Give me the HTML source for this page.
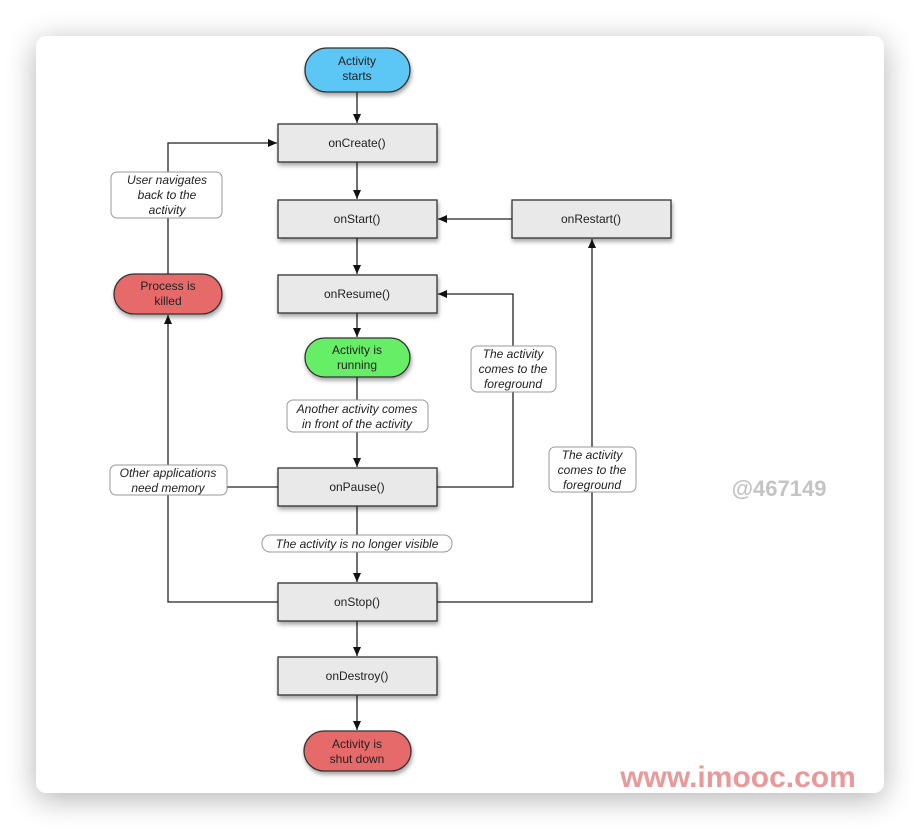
<!DOCTYPE html>
<html><head><meta charset="utf-8"><style>
html,body{margin:0;padding:0;background:#fff;}
body{width:920px;height:830px;position:relative;overflow:hidden;font-family:"Liberation Sans",sans-serif;}
.card{position:absolute;left:36px;top:36px;width:848px;height:757px;background:#fff;border-radius:10px;box-shadow:0 6px 30px rgba(0,0,0,0.3);}
svg{position:absolute;left:0;top:0;}
</style></head><body>
<div class="card"></div>
<svg width="920" height="830" viewBox="0 0 920 830" xmlns="http://www.w3.org/2000/svg" font-family="Liberation Sans, sans-serif">
<defs>
<marker id="a" markerWidth="10" markerHeight="10" refX="9" refY="5" orient="auto" markerUnits="userSpaceOnUse"><path d="M0,1 L9,5 L0,9 z" fill="#111"/></marker>
<filter id="s" x="-20%" y="-20%" width="140%" height="160%"><feDropShadow dx="1" dy="3" stdDeviation="2" flood-color="#000" flood-opacity="0.35"/></filter>
</defs>
<g stroke="#222" stroke-width="1.3" fill="none">
<line x1="357" y1="92" x2="357" y2="123" marker-end="url(#a)"/>
<line x1="357" y1="162" x2="357" y2="199" marker-end="url(#a)"/>
<line x1="357" y1="238" x2="357" y2="274" marker-end="url(#a)"/>
<line x1="357" y1="313" x2="357" y2="337" marker-end="url(#a)"/>
<line x1="357" y1="377" x2="357" y2="467" marker-end="url(#a)"/>
<line x1="357" y1="506" x2="357" y2="582" marker-end="url(#a)"/>
<line x1="357" y1="621" x2="357" y2="656" marker-end="url(#a)"/>
<line x1="357" y1="695" x2="357" y2="730" marker-end="url(#a)"/>
<line x1="512" y1="219" x2="438" y2="219" marker-end="url(#a)"/>
<polyline points="437,487 513,487 513,294 438,294" marker-end="url(#a)"/>
<polyline points="437,602 592,602 592,239" marker-end="url(#a)"/>
<polyline points="278,602 168,602 168,315" marker-end="url(#a)"/>
<polyline points="168,274 168,143 277,143" marker-end="url(#a)"/>
<line x1="227" y1="487" x2="278" y2="487"/>
</g>
<g filter="url(#s)" stroke="#333" stroke-width="1.3">
<rect x="305" y="48" width="105" height="44" rx="22" fill="#5cc6f4"/>
<rect x="305" y="338" width="105" height="39" rx="19.5" fill="#66ee66"/>
<rect x="304" y="731" width="107" height="40" rx="20" fill="#e76b6b"/>
<rect x="114" y="274" width="108" height="40" rx="20" fill="#e76b6b"/>
<rect x="278" y="124" width="159" height="38" fill="#e9e9e9"/>
<rect x="278" y="200" width="159" height="38" fill="#e9e9e9"/>
<rect x="512" y="200" width="159" height="38" fill="#e9e9e9"/>
<rect x="278" y="275" width="159" height="38" fill="#e9e9e9"/>
<rect x="278" y="468" width="159" height="38" fill="#e9e9e9"/>
<rect x="278" y="583" width="159" height="38" fill="#e9e9e9"/>
<rect x="278" y="657" width="159" height="38" fill="#e9e9e9"/>
</g>
<g stroke="#999" stroke-width="1" fill="#fff">
<rect x="111" y="172" width="111" height="46" rx="6"/>
<rect x="110" y="465" width="117" height="30" rx="6"/>
<rect x="287" y="400" width="141" height="32" rx="6"/>
<rect x="262" y="535" width="190" height="17" rx="8"/>
<rect x="471" y="346" width="85" height="46" rx="6"/>
<rect x="549" y="447" width="87" height="45" rx="6"/>
</g>
<g font-size="12" fill="#222" text-anchor="middle">
<text x="357" y="65">Activity</text><text x="357" y="80">starts</text>
<text x="357" y="354">Activity is</text><text x="357" y="369">running</text>
<text x="357" y="748">Activity is</text><text x="357" y="763">shut down</text>
<text x="168" y="290">Process is</text><text x="168" y="305">killed</text>
<text x="357" y="147">onCreate()</text>
<text x="357" y="223">onStart()</text>
<text x="591" y="223">onRestart()</text>
<text x="357" y="298">onResume()</text>
<text x="357" y="491">onPause()</text>
<text x="357" y="606">onStop()</text>
<text x="357" y="680">onDestroy()</text>
</g>
<g font-size="12" font-style="italic" fill="#222" text-anchor="middle">
<text x="167" y="184">User navigates</text><text x="167" y="199">back to the</text><text x="167" y="214">activity</text>
<text x="168" y="477">Other applications</text><text x="168" y="492">need memory</text>
<text x="357" y="413">Another activity comes</text><text x="357" y="428">in front of the activity</text>
<text x="357" y="548">The activity is no longer visible</text>
<text x="513" y="358">The activity</text><text x="513" y="373">comes to the</text><text x="513" y="388">foreground</text>
<text x="592" y="459">The activity</text><text x="592" y="474">comes to the</text><text x="592" y="489">foreground</text>
</g>
<text x="779" y="496" font-size="22" font-weight="bold" fill="#c4c4c4" text-anchor="middle">@467149</text>
<text x="738" y="787" font-size="30" font-weight="bold" fill="#e89a9a" text-anchor="middle">www.imooc.com</text>
</svg>
</body></html>
